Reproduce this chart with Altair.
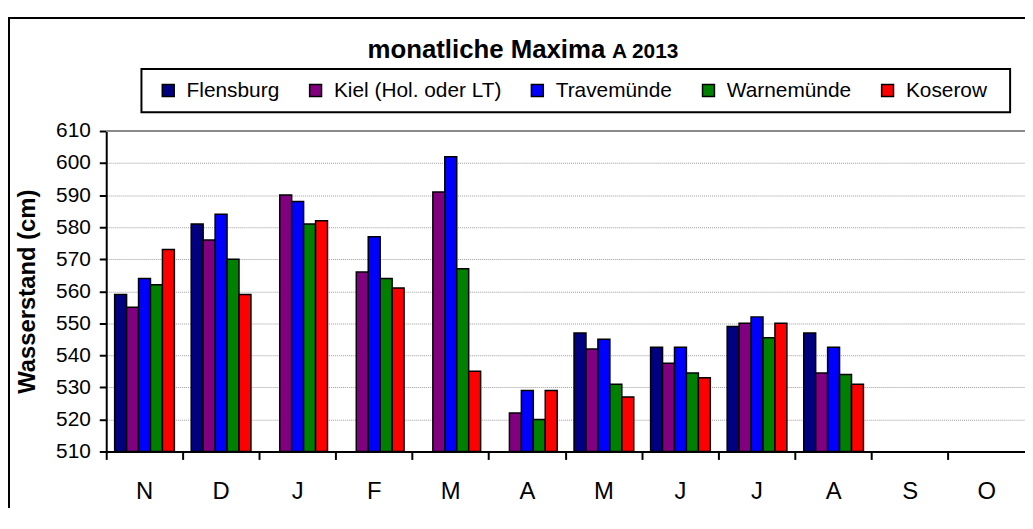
import altair as alt
import pandas as pd

# ---- data ----
months = ["Nov", "Dez", "Jan", "Feb", "Mär", "Apr", "Mai", "Jun", "Jul", "Aug", "Sep", "Okt"]
stations = ["Flensburg", "Kiel (Hol. oder LT)", "Travemünde", "Warnemünde", "Koserow"]
colors = ["#000080", "#800080", "#0000FF", "#008000", "#FF0000"]

flensburg   = [559, 581, None, None, None, None, 547, 542.5, 549, 547, None, None]
kiel        = [555, 576, 590, 566, 591, 522, 542, 537.5, 550, 534.5, None, None]
travemuende = [564, 584, 588, 577, 602, 529, 545, 542.5, 552, 542.5, None, None]
warnemuende = [562, 570, 581, 564, 567, 520, 531, 534.5, 545.5, 534, None, None]
koserow     = [573, 559, 582, 561, 535, 529, 527, 533, 550, 531, None, None]

y_ticks = [510, 520, 530, 540, 550, 560, 570, 580, 590, 600, 610]
title_main = "monatliche Maxima"
title_sub = "A 2013"
y_title = "Wasserstand (cm)"

rows = []
for st, vals in zip(stations, [flensburg, kiel, travemuende, warnemuende, koserow]):
    for m, v in zip(months, vals):
        if v is not None:
            rows.append({"Monat": m, "Station": st, "Wert": v})
df = pd.DataFrame(rows)

FONT = "Liberation Sans"
W, H = 926, 323

y_axis = alt.Axis(
    title=y_title, values=y_ticks, tickCount=11, labelFontSize=21, labelFont=FONT,
    labelColor="black", labelPadding=9, labelOverlap=False,
    tickSize=7, tickColor="black", tickWidth=2,
    domainColor="black", domainWidth=2,
    grid=True, gridColor="#9a9a9a", gridDash=[1, 1], gridWidth=1,
    titleFontSize=24, titleFontWeight="bold", titleFont=FONT, titleColor="black",
    titleX=-72, titleY=161.5, titleAngle=270, titleBaseline="alphabetic",
    titleAlign="center",
)
y_scale = alt.Scale(domain=[510, 610], zero=False, nice=False)

bars = alt.Chart(df).mark_bar(stroke="black", strokeWidth=1.5, opacity=1).encode(
    x=alt.X(
        "Monat:N",
        scale=alt.Scale(domain=months, paddingInner=0, paddingOuter=0),
        axis=alt.Axis(
            title=None, labelAngle=0, labelExpr="substring(datum.label, 0, 1)",
            bandPosition=0, labelFontSize=24, labelFont=FONT, labelColor="black",
            labelBaseline="alphabetic", labelPadding=39, labelOverlap=False,
            tickSize=8, tickColor="black", tickWidth=2,
            domainColor="black", domainWidth=2, grid=False,
        ),
    ),
    xOffset=alt.XOffset(
        "Station:N",
        scale=alt.Scale(domain=stations, paddingInner=0, paddingOuter=0.705),
    ),
    y=alt.Y("Wert:Q", stack=False, scale=y_scale, axis=y_axis),
    y2=alt.datum(510),
    color=alt.Color(
        "Station:N",
        scale=alt.Scale(domain=stations, range=colors),
        legend=alt.Legend(
            title=None, orient="none", legendX=52, legendY=-51.5,
            direction="horizontal", columns=5, padding=0,
            symbolType="square", symbolSize=144, symbolStrokeColor="black",
            symbolStrokeWidth=1.5, symbolOpacity=1,
            labelFontSize=21, labelFont=FONT, labelColor="black",
            labelOffset=8, columnPadding=25.5, labelLimit=400,
        ),
    ),
)

frame = alt.Chart(alt.Data(values=[{}])).mark_rect(
    fillOpacity=0, stroke="black", strokeWidth=2
).encode(x=alt.value(-98), x2=alt.value(1100), y=alt.value(-114), y2=alt.value(600))

legend_box = alt.Chart(alt.Data(values=[{}])).mark_rect(
    fillOpacity=0, stroke="black", strokeWidth=2
).encode(x=alt.value(35.5), x2=alt.value(911), y=alt.value(-62.5), y2=alt.value(-19))

top_rule = alt.Chart(alt.Data(values=[{}])).mark_rule(
    color="#8a8a8a", strokeWidth=2
).encode(y=alt.Y(datum=610, scale=y_scale, axis=y_axis))

t1 = alt.Chart(alt.Data(values=[{"t": title_main}])).mark_text(
    align="right", baseline="alphabetic", fontSize=26, fontWeight="bold",
    font=FONT, color="black"
).encode(text="t:N", x=alt.value(503), y=alt.value(-73.3))

t2 = alt.Chart(alt.Data(values=[{"t": title_sub}])).mark_text(
    align="left", baseline="alphabetic", fontSize=21, fontWeight="bold",
    font=FONT, color="black"
).encode(text="t:N", x=alt.value(509.7), y=alt.value(-73.3))

chart = alt.layer(bars, top_rule, frame, legend_box, t1, t2).properties(
    width=W, height=H,
    autosize=alt.AutoSizeParams(type="none"),
    padding={"left": 99, "top": 122, "right": 0, "bottom": 55},
    background="white",
).configure(font=FONT).configure_view(stroke="transparent")

chart.save("out.html", embed_options={"renderer": "svg", "actions": False})
